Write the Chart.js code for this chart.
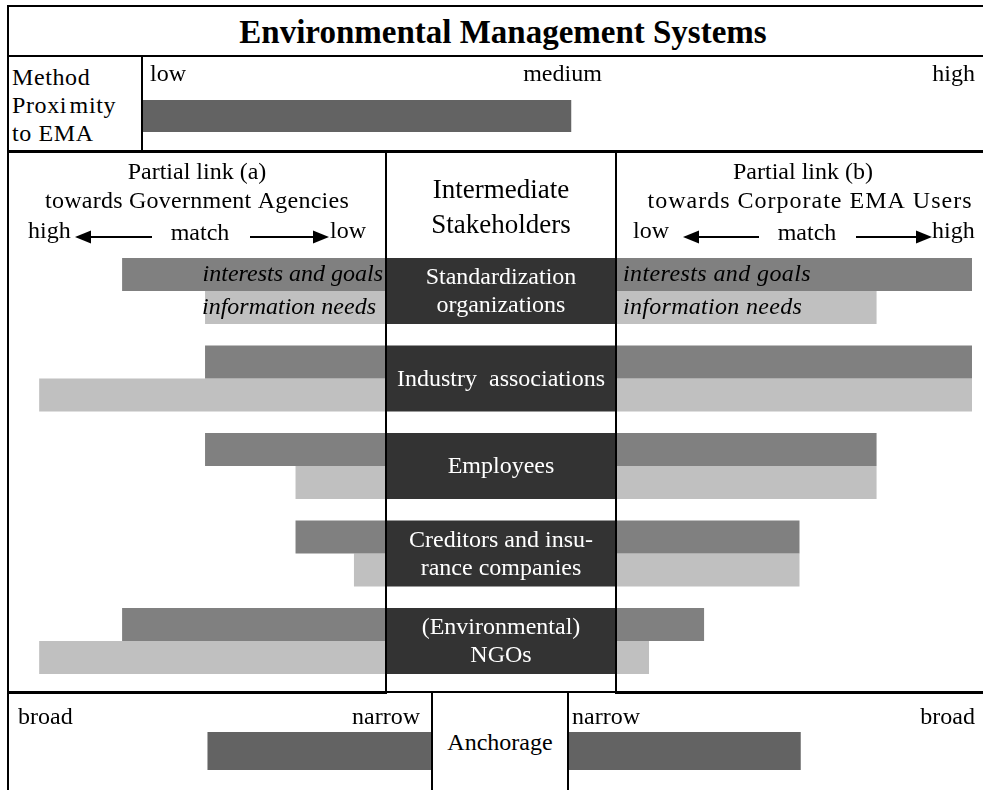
<!DOCTYPE html>
<html>
<head>
<meta charset="utf-8">
<script src="https://cdn.jsdelivr.net/npm/chart.js@4.4.1/dist/chart.umd.min.js"></script>
<style>
  html, body { margin: 0; padding: 0; background: #fff; }
  #page { position: relative; width: 983px; height: 790px; overflow: hidden;
          font-family: "Liberation Serif", "Times New Roman", serif; color: #000; }
  canvas { position: absolute; }
  .ln { position: absolute; background: #000; z-index: 5; }
  .txt { position: absolute; font-size: 24px; line-height: 28px; white-space: nowrap; }
</style>
</head>
<body>
<div id="page">
  <div class="txt" id="title" style="left:0;width:1006px;top:15px;text-align:center;font-weight:bold;font-size:33px;line-height:34px;">Environmental Management Systems</div>
  <div class="txt" style="left:12px;top:63px;font-size:24px;letter-spacing:0.6px;">Method<br>Proxi&#8202;mity<br>to EMA</div>
  <div class="txt" style="left:432px;width:136px;top:728px;text-align:center;">Anchorage</div>

  <canvas id="proximity" width="841" height="93" style="left:142px;top:57px"></canvas>
  <canvas id="gov" width="377" height="540" style="left:9px;top:152px"></canvas>
  <canvas id="middle" width="230" height="540" style="left:386px;top:152px"></canvas>
  <canvas id="corp" width="367" height="540" style="left:616px;top:152px"></canvas>
  <canvas id="anchorGov" width="423" height="96" style="left:9px;top:694px"></canvas>
  <canvas id="anchorCorp" width="415" height="96" style="left:568px;top:694px"></canvas>

  <!-- table rules -->
  <div class="ln" style="left:7px;top:5px;width:976px;height:2px"></div>
  <div class="ln" style="left:7px;top:5px;width:2px;height:785px"></div>
  <div class="ln" style="left:7px;top:55px;width:976px;height:2px"></div>
  <div class="ln" style="left:141px;top:56px;width:2px;height:95px"></div>
  <div class="ln" style="left:7px;top:150px;width:976px;height:3px"></div>
  <div class="ln" style="left:385px;top:152px;width:2px;height:540px"></div>
  <div class="ln" style="left:615px;top:152px;width:2px;height:540px"></div>
  <div class="ln" style="left:7px;top:691px;width:976px;height:2px"></div>
  <div class="ln" style="left:7px;top:691px;width:380px;height:3px"></div>
  <div class="ln" style="left:615px;top:691px;width:368px;height:3px"></div>
  <div class="ln" style="left:431px;top:692px;width:2px;height:98px"></div>
  <div class="ln" style="left:567px;top:692px;width:2px;height:98px"></div>
</div>

<script>
// --- data (match scale 0..10, 10 = highest match) ---
const stakeholders = [
  ['Standardization', 'organizations'],
  ['Industry  associations'],
  ['Employees'],
  ['Creditors and insu-', 'rance companies'],
  ['(Environmental)', 'NGOs']
];
const govInterests  = [7.0, 4.8, 4.8, 2.4, 7.0];
const govInfo       = [4.8, 9.2, 2.4, 0.85, 9.2];
const corpInterests = [9.7, 9.7, 7.1, 5.0, 2.4];
const corpInfo      = [7.1, 9.7, 7.1, 5.0, 0.9];

const proximityTicks = ['low', 'medium', 'high'];
const proximityTickValues = [0, 5, 10];
const proximityValue = 5.1;

const anchorageTicks = ['narrow', 'broad'];
const anchorageTickValues = [0, 10];
const anchorageGov = 5.3;
const anchorageCorp = 5.6;

const SERIF = '"Liberation Serif", "Times New Roman", serif';
const F_BODY = '24px ' + SERIF;
const F_HEAD = '27px ' + SERIF;
const F_ITAL = 'italic 24px ' + SERIF;
const C_INTEREST = '#808080';
const C_INFO = '#c0c0c0';
const C_BOX = '#333333';
const C_BAR = '#636363';

function text(ctx, str, x, y, align, font, color, spacing) {
  ctx.save();
  ctx.font = font || F_BODY;
  ctx.fillStyle = color || '#000';
  ctx.textAlign = align || 'center';
  ctx.textBaseline = 'middle';
  if (spacing) ctx.letterSpacing = spacing;
  ctx.fillText(str, x, y);
  ctx.restore();
}

function arrow(ctx, x0, x1, y) {
  // shaft from x0 to the head at x1
  const dir = x1 > x0 ? 1 : -1;
  ctx.save();
  ctx.strokeStyle = '#000';
  ctx.fillStyle = '#000';
  ctx.lineWidth = 2;
  ctx.beginPath();
  ctx.moveTo(x0, y);
  ctx.lineTo(x1 - dir * 12, y);
  ctx.stroke();
  ctx.beginPath();
  ctx.moveTo(x1, y);
  ctx.lineTo(x1 - dir * 16, y - 6.5);
  ctx.lineTo(x1 - dir * 16, y + 6.5);
  ctx.closePath();
  ctx.fill();
  ctx.restore();
}

function hBar(id, cfg) {
  return new Chart(document.getElementById(id), {
    type: 'bar',
    data: { labels: cfg.labels, datasets: cfg.datasets },
    options: {
      indexAxis: 'y',
      responsive: false,
      animation: false,
      events: [],
      layout: { padding: cfg.padding },
      plugins: { legend: { display: false }, tooltip: { enabled: false } },
      scales: {
        x: { type: 'linear', min: 0, max: cfg.max || 10, reverse: !!cfg.reverse, display: false },
        y: { type: 'category', display: false }
      }
    },
    plugins: cfg.plugins || []
  });
}

function rowSet(data, color) {
  return { data: data, backgroundColor: color, borderWidth: 0,
           categoryPercentage: 0.754, barPercentage: 1 };
}

const rowPadding = { top: 95.25, bottom: 7.25, left: 0, right: 0 };

// Method proximity to EMA
hBar('proximity', {
  labels: ['EMA'],
  datasets: [{ data: [proximityValue], backgroundColor: C_BAR, borderWidth: 0,
               categoryPercentage: 1, barPercentage: 1 }],
  padding: { top: 43, bottom: 18, left: 0, right: 0 },
  plugins: [{
    id: 'proxTicks',
    afterDraw(chart) {
      const x = chart.scales.x, ctx = chart.ctx;
      const aligns = ['left', 'center', 'right'], offs = [8, 0, -8];
      proximityTicks.forEach((t, i) => {
        text(ctx, t, x.getPixelForValue(proximityTickValues[i]) + offs[i], 18, aligns[i]);
      });
    }
  }]
});

// Partial link (a) - government agencies
hBar('gov', {
  labels: stakeholders,
  reverse: true,
  datasets: [rowSet(govInterests, C_INTEREST), rowSet(govInfo, C_INFO)],
  padding: rowPadding,
  plugins: [{
    id: 'govText',
    afterDraw(chart) {
      const ctx = chart.ctx, a = chart.chartArea;
      text(ctx, 'Partial link (a)', 188, 21);
      text(ctx, 'towards Government Agencies', 188, 50, 'center', F_BODY, '#000', '0.25px');
      text(ctx, 'high', 19, 80, 'left');
      arrow(ctx, 143, 66, 85);
      text(ctx, 'match', 191, 82);
      arrow(ctx, 241, 320, 85);
      text(ctx, 'low', 321, 80, 'left');
      const b0 = chart.getDatasetMeta(0).data[0], b1 = chart.getDatasetMeta(1).data[0];
      text(ctx, 'interests and goals', a.right - 3, b0.y, 'right', F_ITAL);
      text(ctx, 'information needs', a.right - 10, b1.y, 'right', F_ITAL);
    }
  }]
});

// Intermediate stakeholders
hBar('middle', {
  labels: stakeholders,
  max: 1,
  datasets: [{ data: stakeholders.map(() => [0, 1]), backgroundColor: C_BOX, borderWidth: 0,
               categoryPercentage: 0.754, barPercentage: 1 }],
  padding: rowPadding,
  plugins: [{
    id: 'midText',
    afterDraw(chart) {
      const ctx = chart.ctx, a = chart.chartArea;
      const cx = (a.left + a.right) / 2;
      text(ctx, 'Intermediate', cx, 39, 'center', F_HEAD);
      text(ctx, 'Stakeholders', cx, 74, 'center', F_HEAD);
      chart.getDatasetMeta(0).data.forEach((bar, i) => {
        const lines = stakeholders[i];
        lines.forEach((ln, j) => {
          text(ctx, ln, cx, bar.y + 1 + (j - (lines.length - 1) / 2) * 28, 'center', F_BODY, '#ffffff');
        });
      });
    }
  }]
});

// Partial link (b) - corporate EMA users
hBar('corp', {
  labels: stakeholders,
  datasets: [rowSet(corpInterests, C_INTEREST), rowSet(corpInfo, C_INFO)],
  padding: rowPadding,
  plugins: [{
    id: 'corpText',
    afterDraw(chart) {
      const ctx = chart.ctx, a = chart.chartArea;
      text(ctx, 'Partial link (b)', 187, 21);
      text(ctx, 'towards Corporate EMA Users', 194, 50, 'center', F_BODY, '#000', '1px');
      text(ctx, 'low', 17, 80, 'left');
      arrow(ctx, 143, 67, 85);
      text(ctx, 'match', 191, 82);
      arrow(ctx, 240, 316, 85);
      text(ctx, 'high', 316, 80, 'left');
      const b0 = chart.getDatasetMeta(0).data[0], b1 = chart.getDatasetMeta(1).data[0];
      text(ctx, 'interests and goals', a.left + 7, b0.y, 'left', F_ITAL, '#000', '0.4px');
      text(ctx, 'information needs', a.left + 7, b1.y, 'left', F_ITAL, '#000', '0.3px');
    }
  }]
});

// Anchorage
function anchorTicks(leftSide) {
  return {
    id: 'anchorTicks',
    afterDraw(chart) {
      const x = chart.scales.x, ctx = chart.ctx;
      anchorageTicks.forEach((t, i) => {
        const px = x.getPixelForValue(anchorageTickValues[i]);
        const toLeft = (px < chart.width / 2);
        text(ctx, t, px + (toLeft ? (leftSide ? 9 : 4) : (leftSide ? -12 : -8)), 24, toLeft ? 'left' : 'right');
      });
    }
  };
}
hBar('anchorGov', {
  labels: ['Anchorage'],
  reverse: true,
  datasets: [{ data: [anchorageGov], backgroundColor: C_BAR, borderWidth: 0,
               categoryPercentage: 1, barPercentage: 1 }],
  padding: { top: 38, bottom: 20, left: 0, right: 0 },
  plugins: [anchorTicks(true)]
});
hBar('anchorCorp', {
  labels: ['Anchorage'],
  datasets: [{ data: [anchorageCorp], backgroundColor: C_BAR, borderWidth: 0,
               categoryPercentage: 1, barPercentage: 1 }],
  padding: { top: 38, bottom: 20, left: 0, right: 0 },
  plugins: [anchorTicks(false)]
});
</script>
</body>
</html>
